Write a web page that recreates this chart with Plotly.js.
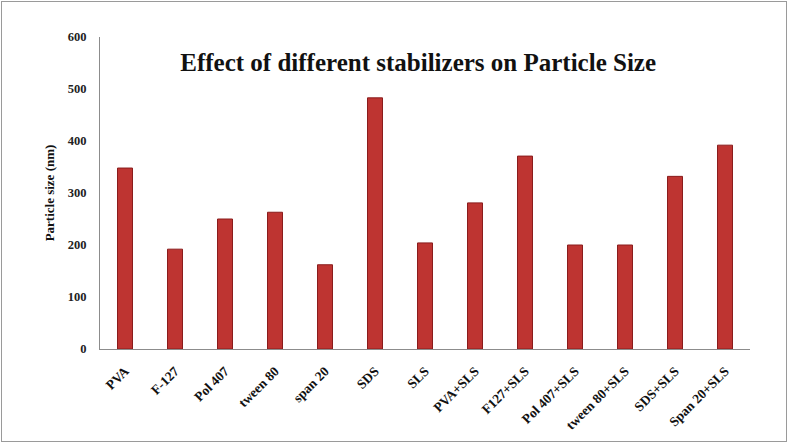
<!DOCTYPE html>
<html>
<head>
<meta charset="utf-8">
<script src="https://cdn.plot.ly/plotly-3.0.1.min.js"></script>
<style>
  body { margin: 0; background: #fff; }
  #wrap { position: relative; width: 789px; height: 444px; }
  #frame { position: absolute; left: 1px; top: 1px; width: 784px; height: 439px;
           border: 1px solid #9a9a9a; pointer-events: none; }
</style>
</head>
<body>
<div id="wrap">
  <div id="chart" style="width:789px;height:444px;"></div>
  <div id="frame"></div>
</div>
<script>
// stabilizer categories
var stabilizers = ['PVA', 'F-127', 'Pol 407', 'tween 80', 'span 20', 'SDS', 'SLS',
  'PVA+SLS', 'F127+SLS', 'Pol 407+SLS', 'tween 80+SLS', 'SDS+SLS', 'Span 20+SLS'];

// particle size (nm)
var particleSize = [348, 192, 250, 263, 162, 483, 204, 281, 371, 200, 200, 332, 392];

var yTicks = [0, 100, 200, 300, 400, 500, 600];

var serif = 'Liberation Serif, Times New Roman, serif';

var data = [{
  type: 'bar',
  x: stabilizers,
  y: particleSize,
  width: 0.3,
  marker: {
    color: '#be3431',
    line: {color: '#8a1c1c', width: 1}
  },
  hoverinfo: 'x+y'
}];

var layout = {
  width: 789,
  height: 444,
  margin: {l: 100, r: 39, t: 37, b: 95},
  paper_bgcolor: '#fff',
  plot_bgcolor: '#fff',
  showlegend: false,
  title: {
    text: 'Effect of different stabilizers on Particle Size',
    font: {family: serif, size: 25, color: '#111', weight: 'bold'},
    x: 0.53,
    xanchor: 'center',
    y: 0.86,
    yanchor: 'middle'
  },
  xaxis: {
    tickangle: -45,
    tickfont: {family: serif, size: 13.5, color: '#111', weight: 'bold'},
    ticklabelstandoff: 8,
    showline: true,
    linecolor: '#8c8c8c',
    linewidth: 1,
    ticks: ''
  },
  yaxis: {
    range: [0, 600],
    tickvals: yTicks,
    showgrid: false,
    zeroline: false,
    showline: true,
    linecolor: '#8c8c8c',
    linewidth: 1,
    ticks: '',
    ticklabelstandoff: 10,
    tickfont: {family: serif, size: 12.5, color: '#222', weight: 'bold'},
    title: {
      text: 'Particle size (nm)',
      font: {family: serif, size: 13, color: '#111', weight: 'bold'},
      standoff: 10
    }
  }
};

Plotly.newPlot('chart', data, layout, {displayModeBar: false, staticPlot: true});
</script>
</body>
</html>
